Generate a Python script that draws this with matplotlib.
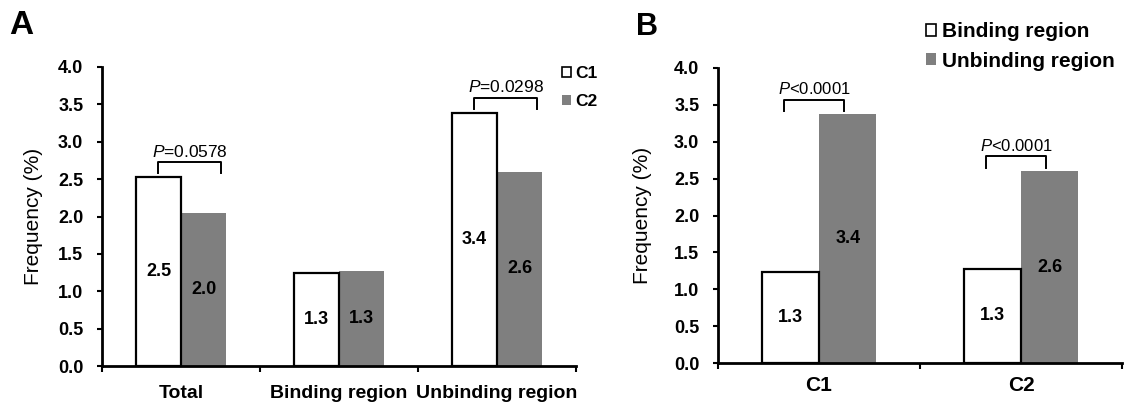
import matplotlib
matplotlib.use("Agg")
from matplotlib import pyplot as plt
from matplotlib.patches import Patch
import numpy as np

# panel A data
groups_a = ["Total", "Binding region", "Unbinding region"]
c1_vals = [2.53, 1.245, 3.39]
c2_vals = [2.05, 1.27, 2.60]
c1_labels = ["2.5", "1.3", "3.4"]
c2_labels = ["2.0", "1.3", "2.6"]
p_a = {0: "=0.0578", 2: "=0.0298"}

# panel B data
groups_b = ["C1", "C2"]
bind_vals = [1.24, 1.28]
unbind_vals = [3.37, 2.60]
bind_labels = ["1.3", "1.3"]
unbind_labels = ["3.4", "2.6"]
p_b = {0: "<0.0001", 1: "<0.0001"}

yticks = [0.0, 0.5, 1.0, 1.5, 2.0, 2.5, 3.0, 3.5, 4.0]

plt.rcParams["font.family"] = ["Liberation Sans", "DejaVu Sans"]
plt.rcParams["mathtext.fontset"] = "custom"
plt.rcParams["mathtext.it"] = "Liberation Sans:italic"
plt.rcParams["mathtext.rm"] = "Liberation Sans"

GRAY = "#7f7f7f"
fig = plt.figure(figsize=(11.26, 4.07), dpi=100)


def style_axis(ax, n, xpad, ylpad):
  ax.set_xlim(-0.5, n - 0.5)
  ax.set_ylim(0, 4.0)
  for s in ["top", "right"]:
    ax.spines[s].set_visible(False)
  for s in ["left", "bottom"]:
    ax.spines[s].set_linewidth(2)
  ax.set_yticks(yticks)
  ax.set_yticklabels(["%.1f" % t for t in yticks], fontsize=13, fontweight="bold")
  ax.tick_params(axis="y", direction="out", length=3.5, width=1.5, pad=10)
  ax.set_xticks(np.arange(n))
  ax.tick_params(axis="x", length=0, pad=xpad)
  ax.set_xticks(np.arange(n + 1) - 0.5, minor=True)
  ax.tick_params(axis="x", which="minor", direction="out", length=4, width=1.5)
  ax.set_ylabel("Frequency (%)", fontsize=15, labelpad=ylpad)


def draw_pair(ax, v1, v2, l1, l2, w):
  x = np.arange(len(v1))
  ax.bar(x - w / 2, v1, w, color="white", edgecolor="black", linewidth=1.6, zorder=2)
  ax.bar(x + w / 2, v2, w, color=GRAY, edgecolor="none", zorder=1)
  for i in range(len(x)):
    ax.text(x[i] - w / 2, v1[i] / 2, l1[i], ha="center", va="center",
            fontsize=13, fontweight="bold")
    ax.text(x[i] + w / 2, v2[i] / 2, l2[i], ha="center", va="center",
            fontsize=13, fontweight="bold")


def bracket(ax, top, x0, x1, txt, fs):
  y1 = top + 0.2
  y0 = top + 0.05
  ax.plot([x0, x0, x1, x1], [y0, y1, y1, y0], color="black", lw=1.4, clip_on=False)
  ax.text((x0 + x1) / 2, y1 + 0.03, r"$\it{P}$" + txt, ha="center", va="bottom", fontsize=fs)


# ---- panel A
axA = fig.add_axes([0.0906, 0.1007, 0.4209, 0.7347])
wa = 0.285
draw_pair(axA, c1_vals, c2_vals, c1_labels, c2_labels, wa)
style_axis(axA, len(groups_a), 14, 11)
axA.set_xticklabels(groups_a, fontsize=14, fontweight="bold")
for i, txt in p_a.items():
  bracket(axA, max(c1_vals[i], c2_vals[i]), i - wa / 2, i + wa / 2 + 0.11, txt, 12.5)
fig.text(0.008, 0.975, "A", fontsize=24, fontweight="bold", va="top")
fig.legend(handles=[Patch(facecolor="white", edgecolor="black", linewidth=1.2, label="C1"),
                    Patch(facecolor=GRAY, edgecolor="none", label="C2")],
           loc="upper left", bbox_to_anchor=(0.499, 0.837), frameon=False,
           prop={"size": 12.5, "weight": "bold"}, handlelength=0.5, handleheight=0.5,
           handletextpad=0.25, labelspacing=0.75, borderaxespad=0, borderpad=0)

# ---- panel B
axB = fig.add_axes([0.6377, 0.108, 0.3588, 0.725])
wb = 0.284
draw_pair(axB, bind_vals, unbind_vals, bind_labels, unbind_labels, wb)
style_axis(axB, len(groups_b), 9, 16)
axB.set_xticklabels(groups_b, fontsize=15, fontweight="bold")
for i, txt in p_b.items():
  bracket(axB, max(bind_vals[i], unbind_vals[i]), i - wb / 2 - 0.03, i + wb / 2 - 0.02, txt, 12)
fig.text(0.565, 0.97, "B", fontsize=22, fontweight="bold", va="top")
fig.legend(handles=[Patch(facecolor="white", edgecolor="black", linewidth=1.2, label="Binding region"),
                    Patch(facecolor=GRAY, edgecolor="none", label="Unbinding region")],
           loc="upper left", bbox_to_anchor=(0.822, 0.945), frameon=False,
           prop={"size": 15, "weight": "bold"}, handlelength=0.5, handleheight=0.5,
           handletextpad=0.3, labelspacing=0.5, borderaxespad=0, borderpad=0)

fig.savefig("out.png", dpi=100)
